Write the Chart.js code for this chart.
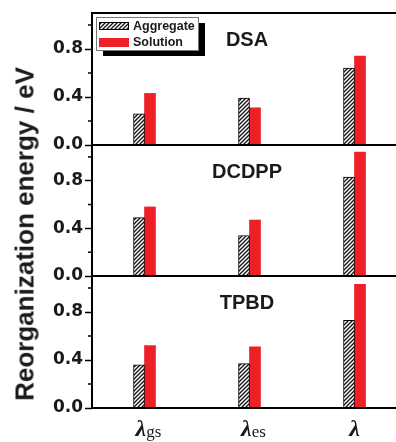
<!DOCTYPE html>
<html>
<head>
<meta charset="utf-8">
<script src="https://cdn.jsdelivr.net/npm/chart.js@4.4.1/dist/chart.umd.min.js"></script>
<style>
  html, body { margin: 0; padding: 0; background: #fff; overflow: hidden; }
  #wrap { width: 420px; height: 442px; position: relative; }
  .panel { position: absolute; left: 0; width: 420px; }
  #p1 { top: 0; height: 160px; }
  #p2 { top: 130px; height: 161px; }
  #p3 { top: 261px; height: 181px; }
  #ytitle {
    position: absolute; left: 25px; top: 234px;
    transform: translate(-50%, -50%) rotate(-90deg);
    font: bold 26px "Liberation Sans", Arial, sans-serif; color: #1a1a1a;
    white-space: nowrap;
  }
</style>
</head>
<body>
<div id="wrap">
  <div class="panel" id="p1"><canvas id="c1"></canvas></div>
  <div class="panel" id="p2"><canvas id="c2"></canvas></div>
  <div class="panel" id="p3"><canvas id="c3"></canvas></div>
  <div id="ytitle">Reorganization energy / eV</div>
</div>
<script>
// categories: [main symbol, subscript]
const categories = [['λ', 'gs'], ['λ', 'es'], ['λ', '']];
const panels = ['DSA', 'DCDPP', 'TPBD'];
const seriesNames = ['Aggregate', 'Solution'];

const aggDSA = [0.26, 0.39, 0.64];
const solDSA = [0.43, 0.31, 0.74];
const aggDCDPP = [0.49, 0.34, 0.83];
const solDCDPP = [0.58, 0.47, 1.04];
const aggTPBD = [0.36, 0.37, 0.73];
const solTPBD = [0.52, 0.51, 1.03];

const yMax = 1.1;
const majorStep = 0.4;
const minorTicks = [0.2, 0.6, 1.0];

const red = 'rgb(236, 32, 38)';

// diagonal hatch for the aggregate bars
const pc = document.createElement('canvas');
pc.width = pc.height = 4;
const p = pc.getContext('2d');
p.fillStyle = '#fff';
p.fillRect(0, 0, 4, 4);
p.strokeStyle = '#111';
p.lineWidth = 1.3;
p.beginPath();
p.moveTo(0, 4); p.lineTo(4, 0);
p.moveTo(-1, 1); p.lineTo(1, -1);
p.moveTo(3, 5); p.lineTo(5, 3);
p.stroke();
const hatch = p.createPattern(pc, 'repeat');

function drawLegend(ctx, a) {
  const lx = a.left + 4, ly = a.top + 4;
  ctx.fillStyle = '#000';
  ctx.fillRect(lx + 7, ly + 6, 102, 33);
  ctx.fillStyle = '#fff';
  ctx.fillRect(lx, ly, 102, 33);
  ctx.strokeStyle = '#777';
  ctx.lineWidth = 1;
  ctx.strokeRect(lx + 0.5, ly + 0.5, 102, 33);

  ctx.fillStyle = hatch;
  ctx.fillRect(lx + 3, ly + 5, 30, 8);
  ctx.strokeStyle = '#000';
  ctx.strokeRect(lx + 3.5, ly + 5.5, 29, 7);
  ctx.fillStyle = red;
  ctx.fillRect(lx + 3, ly + 21, 30, 9);

  ctx.fillStyle = '#1a1a1a';
  ctx.font = 'bold 12.5px "Liberation Sans"';
  ctx.textAlign = 'left';
  ctx.textBaseline = 'middle';
  ctx.fillText(seriesNames[0], lx + 37, ly + 10);
  ctx.fillText(seriesNames[1], lx + 37, ly + 26);
}

function drawXLabels(ctx, a, xs) {
  ctx.fillStyle = '#1a1a1a';
  ctx.textAlign = 'left';
  ctx.textBaseline = 'alphabetic';
  categories.forEach(([main, sub], i) => {
    const cx = xs.getPixelForValue(i);
    ctx.font = 'italic bold 24px "Liberation Serif"';
    const w1 = ctx.measureText(main).width;
    ctx.font = '17px "Liberation Serif"';
    const w2 = sub ? ctx.measureText(sub).width : 0;
    const x = cx - (w1 + w2) / 2 + (sub ? 4 : 0);
    ctx.font = 'italic bold 24px "Liberation Serif"';
    ctx.fillText(main, x, a.bottom + 28);
    if (sub) {
      ctx.font = '17px "Liberation Serif"';
      ctx.fillText(sub, x + w1, a.bottom + 29);
    }
  });
}

function makePanel(canvasId, idx, agg, sol, padding) {
  const decor = {
    id: 'decor',
    afterDatasetsDraw(chart) {
      const { ctx, chartArea: a } = chart;
      const s = chart.scales.y;
      ctx.save();
      ctx.strokeStyle = '#000';
      ctx.lineWidth = 1.5;
      minorTicks.forEach(v => {
        const y = s.getPixelForValue(v);
        ctx.beginPath();
        ctx.moveTo(a.left - 4, y);
        ctx.lineTo(a.left, y);
        ctx.stroke();
      });
      ctx.lineWidth = 2;
      ctx.strokeRect(a.left, a.top, a.right - a.left, a.bottom - a.top);

      ctx.fillStyle = '#1a1a1a';
      ctx.font = 'bold 20px "Liberation Sans"';
      ctx.textAlign = 'center';
      ctx.textBaseline = 'alphabetic';
      ctx.fillText(panels[idx], a.left + 155, a.top + 33);

      if (idx === 0) drawLegend(ctx, a);
      if (idx === 2) drawXLabels(ctx, a, chart.scales.x);
      ctx.restore();
    }
  };

  return new Chart(document.getElementById(canvasId), {
    type: 'bar',
    data: {
      labels: categories.map(c => c.join('')),
      datasets: [
        { label: seriesNames[0], data: agg, backgroundColor: hatch, borderColor: '#000', borderWidth: 1, barThickness: 11 },
        { label: seriesNames[1], data: sol, backgroundColor: red, borderWidth: 0, barThickness: 11 }
      ]
    },
    options: {
      responsive: true,
      maintainAspectRatio: false,
      animation: false,
      layout: { padding: padding },
      scales: {
        x: { type: 'category', display: false, offset: true, grid: { display: false } },
        y: {
          min: 0, max: yMax,
          ticks: {
            stepSize: majorStep, includeBounds: false, padding: 2, color: '#1a1a1a',
            font: { family: 'DejaVu Sans', weight: 'bold', size: 17 },
            callback: v => v.toFixed(1)
          },
          grid: { drawOnChartArea: false, tickLength: 7, tickWidth: 1.5, tickColor: '#000' },
          border: { display: false },
          afterFit(sc) { sc.width = 50; }
        }
      },
      plugins: {
        legend: { display: false },
        tooltip: { enabled: false }
      }
    },
    plugins: [decor]
  });
}

makePanel('c1', 0, aggDSA, solDSA, { left: 42, right: 13, top: 13, bottom: 15 });
makePanel('c2', 1, aggDCDPP, solDCDPP, { left: 42, right: 13, top: 15, bottom: 15 });
makePanel('c3', 2, aggTPBD, solTPBD, { left: 42, right: 13, top: 15, bottom: 34 });
</script>
</body>
</html>
